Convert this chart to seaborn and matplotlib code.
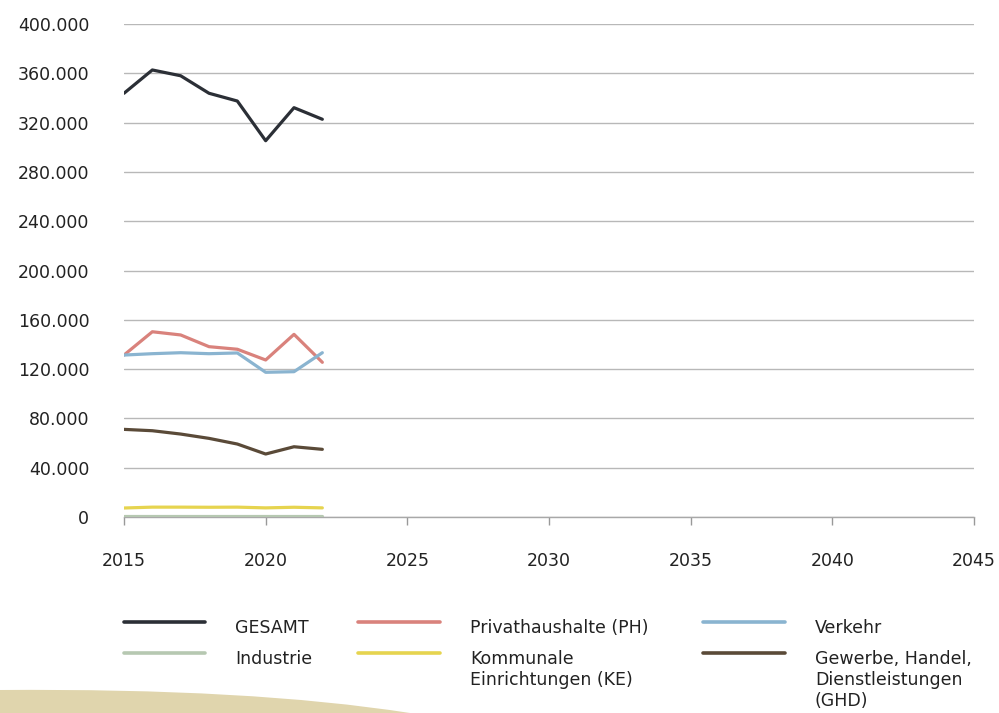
import numpy as np
import pandas as pd
import seaborn as sns
import matplotlib.pyplot as plt
from matplotlib.lines import Line2D
from matplotlib.path import Path
from matplotlib.patches import PathPatch

years = [2015, 2016, 2017, 2018, 2019, 2020, 2021, 2022]
gesamt = [343800, 362700, 358000, 343800, 337500, 305300, 332100, 322700]
privathaushalte = [131400, 150300, 147700, 138200, 136100, 127400, 148200, 125500]
verkehr = [131400, 132500, 133300, 132500, 133100, 117400, 117900, 133300]
industrie = [1000, 1000, 1000, 1000, 1000, 1000, 1000, 1000]
kommunale = [7300, 8000, 8000, 7900, 8000, 7400, 7900, 7400]
ghd = [71100, 70000, 67300, 63800, 59200, 51100, 57000, 54900]

series_names = ["GESAMT", "Privathaushalte (PH)", "Verkehr", "Industrie",
                "Kommunale\nEinrichtungen (KE)", "Gewerbe, Handel,\nDienstleistungen\n(GHD)"]
series_values = [gesamt, privathaushalte, verkehr, industrie, kommunale, ghd]
colors = ["#2b2f36", "#d9827c", "#8ab4d0", "#b6c8b1", "#e6d44f", "#5a4a38"]

x_ticks = [2015, 2020, 2025, 2030, 2035, 2040, 2045]
y_ticks = list(range(0, 400001, 40000))

sns.set_theme(style="white")
plt.rcParams['font.family'] = ['DejaVu Sans']
text_color = "#222222"

df = pd.concat([pd.DataFrame({"Jahr": years, "Wert": v, "Sektor": n})
                for n, v in zip(series_names, series_values)])

fig = plt.figure(figsize=(9.99, 7.13), dpi=100)
ax = fig.add_axes([124 / 999, 1 - 517 / 713, 850 / 999, 493 / 713])

# draw order: small ones first, GESAMT on top
order = [3, 4, 5, 2, 1, 0]
for i in order:
    sub = df[df["Sektor"] == series_names[i]]
    sns.lineplot(data=sub, x="Jahr", y="Wert", color=colors[i], linewidth=2.3,
                 ax=ax, legend=False, zorder=3 + i)

ax.set_xlim(2015, 2045)
ax.set_ylim(0, 400000)
ax.set_xticks(x_ticks)
ax.set_yticks(y_ticks)
ax.set_yticklabels([f"{v:,}".replace(",", ".") for v in y_ticks])
ax.set_xlabel("")
ax.set_ylabel("")
ax.yaxis.grid(True, color="#b8b8b8", linewidth=1)
ax.set_axisbelow(True)
for s in ["top", "right", "left"]:
    ax.spines[s].set_visible(False)
ax.spines["bottom"].set_color("#a8a8a8")
ax.spines["bottom"].set_linewidth(1)
ax.tick_params(axis="x", direction="out", length=6, width=1, color="#999999",
               pad=19, labelsize=12.5, labelcolor=text_color, bottom=True)
ax.tick_params(axis="y", length=0, pad=25, labelsize=12.5, labelcolor=text_color)

# legend, laid out by hand in pixel positions
W, H = 999, 713
legend_rows = [622, 653]
legend_cols = [(124, 205, 235), (358, 440, 470), (703, 785, 815)]
grid_idx = [[0, 1, 2], [3, 4, 5]]
for r, row in enumerate(grid_idx):
    for c, i in enumerate(row):
        x0, x1, xt = legend_cols[c]
        yy = 1 - legend_rows[r] / H
        fig.add_artist(Line2D([x0 / W, x1 / W], [yy, yy], color=colors[i],
                              linewidth=2.6, solid_capstyle="round"))
        fig.text(xt / W, yy + 3 / H, series_names[i], ha="left", va="top",
                 fontsize=12.5, color=text_color, linespacing=1.2)

# decorative shape at the bottom left
verts = [(0, 1 - 690 / H), (250 / W, 1 - 688 / H), (410 / W, 0), (0, 0), (0, 1 - 690 / H)]
codes = [Path.MOVETO, Path.CURVE3, Path.CURVE3, Path.LINETO, Path.CLOSEPOLY]
fig.add_artist(PathPatch(Path(verts, codes), facecolor="#e0d5ad", edgecolor="none",
                         transform=fig.transFigure, zorder=0))

fig.savefig("out.png", dpi=100)
